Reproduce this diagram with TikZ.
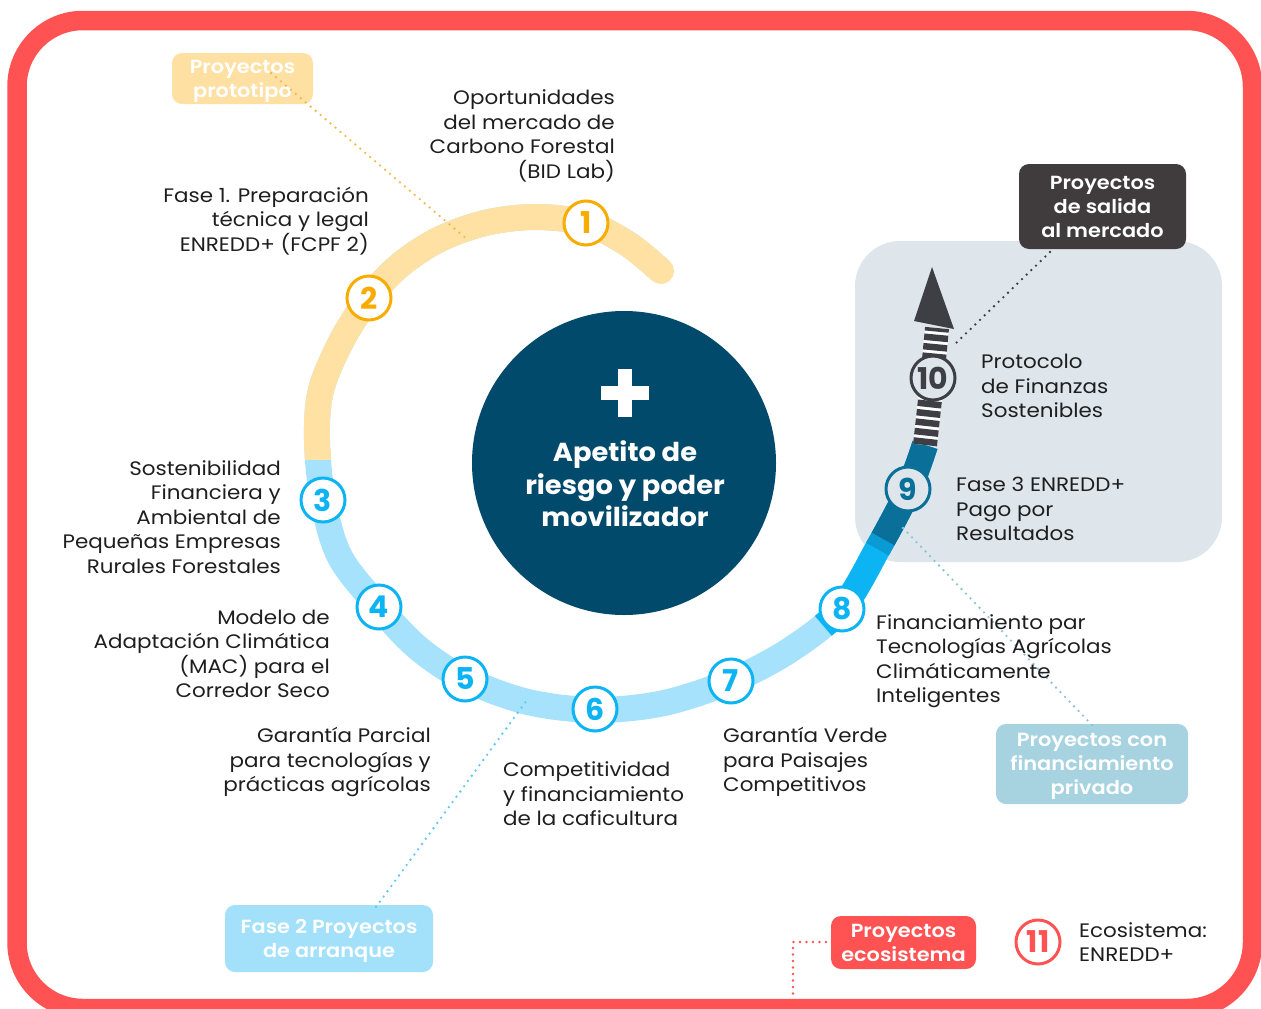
\documentclass[tikz,border=0pt]{standalone}
\usepackage{fontspec}
\setmainfont{Poppins}[FakeStretch=1.1]
\newfontfamily\numfont{Poppins}
\newfontfamily\centfont{Poppins}[FakeStretch=1.05]
\IfFontExistsTF{Poppins SemiBold}{\newfontfamily\tagfont{Poppins SemiBold}[FakeStretch=1.1]}{\newfontfamily\tagfontbase{Poppins}[FakeStretch=1.06]\newcommand\tagfont{\tagfontbase\bfseries}}
\definecolor{redc}{HTML}{FF5353}
\definecolor{orband}{HTML}{FFE1A4}
\definecolor{gold}{HTML}{F9AC00}
\definecolor{lband}{HTML}{A6E2FC}
\definecolor{bblue}{HTML}{0DB4F3}
\definecolor{mblue}{HTML}{0A9BD5}
\definecolor{teal}{HTML}{0B7099}
\definecolor{darkc}{HTML}{3D3F45}
\definecolor{boxc}{HTML}{DEE6EC}
\definecolor{centc}{HTML}{024A6B}
\definecolor{salc}{HTML}{403C3D}
\definecolor{privc}{HTML}{A7D3E1}
\definecolor{fasec}{HTML}{A3E1FB}
\definecolor{protc}{HTML}{FFE0A3}
\definecolor{txt}{HTML}{1E1E1E}
\definecolor{pdot}{HTML}{8EC3D6}
\definecolor{fdot}{HTML}{5BC8F5}
\definecolor{odot}{HTML}{F5B94A}
\def\bandpath{plot[smooth, tension=0.55] coordinates {(661,271) (628,244) (586,223) (535,217) (485,223) (438,240) (399,266) (369,298) (342,340) (321,390) (317,440) (323,500) (340,557) (379,607) (418,648) (465,679) (528,702) (596,710) (664,703) (731,681) (790,650) (842,608) (878,548) (908,491) (925,445)}}
\def\stripepath{plot[smooth] coordinates {(925,445) (931,390) (937,328)}}
\tikzset{
  body/.style={font=\fontsize{19.5}{24.5}\selectfont, text=txt, inner sep=0pt},
  numc/.style={circle, draw=#1, line width=3pt, fill=white, minimum size=44pt, inner sep=0pt, text=#1, font=\numfont\fontsize{30}{30}\selectfont\bfseries},
  tag/.style={rounded corners=10pt, fill=#1, text=white, font=\tagfont\fontsize{19}{24}\selectfont, align=center, inner sep=0pt, text depth=0pt},
  dots/.style={draw=#1, line width=2.6pt, line cap=round, dash pattern=on 0pt off 6.5pt},
  band/.style={line width=26pt, draw=#1},
}
\begin{document}
\begin{tikzpicture}[x=1pt,y=-1pt]
\path[use as bounding box, clip] (0,0) rectangle (1261,1009);
% gray box
\fill[boxc, rounded corners=45pt] (855,241) rectangle (1222,562);
% red frame
\draw[redc, line width=19.5pt, rounded corners=66pt] (17,20.5) rectangle (1252.5,1008.5);
% band
\draw[band=lband] \bandpath;
\begin{scope}
\clip (0,0) rectangle (800,459);
\draw[band=orband] \bandpath;
\end{scope}
\fill[orband] (661,271) circle (13pt);
\begin{scope}
\clip (760,552) -- (880,692) -- (1261,692) -- (1261,0) -- (760,0) -- cycle;
\draw[band=bblue] \bandpath;
\end{scope}
\begin{scope}
\clip (792,501) -- (966,599) -- (1261,599) -- (1261,0) -- (792,0) -- cycle;
\draw[band=mblue] \bandpath;
\end{scope}
\begin{scope}
\clip (798,491) -- (972,589) -- (1261,589) -- (1261,0) -- (798,0) -- cycle;
\draw[band=teal] \bandpath;
\end{scope}
% stripes and arrow
\draw[white, line width=24pt] \stripepath;
\draw[darkc, line width=24pt, dash pattern=on 6.5pt off 3pt] \stripepath;
\fill[darkc] (914,321) -- (954,329) -- (932,267) -- cycle;
% tags
\node[tag=protc, minimum width=141pt, minimum height=51pt] (proto) at (242.5,78.5) {Proyectos\\prototipo};
\node[tag=salc, minimum width=167pt, minimum height=85pt] (sal) at (1102.5,206.5) {Proyectos\\de salida\\al mercado};
\node[tag=privc, minimum width=192pt, minimum height=80pt] (priv) at (1092,764) {Proyectos con\\financiamiento\\privado};
\node[tag=fasec, minimum width=208pt, minimum height=67pt] (fase2) at (329,938.5) {Fase 2 Proyectos\\de arranque};
\node[tag=redc, minimum width=145pt, minimum height=53pt] (ecos) at (903.5,942.5) {Proyectos\\ecosistema};
% dotted connectors
\coordinate (protoS) at (271,73);
\coordinate (protoE) at (468,240);
\draw[dots=odot] (protoS) -- (protoE);
\coordinate (salS) at (1050,252);
\coordinate (salE) at (953,346);
\draw[dots=darkc] (salS) -- (salE);
\coordinate (privS) at (1092,725);
\coordinate (privE) at (903,528);
\draw[dots=pdot] (privS) -- (privE);
\coordinate (faseS) at (376,907);
\coordinate (faseE) at (527,700);
\draw[dots=fdot] (faseS) -- (faseE);
\coordinate (ecoS) at (826,942);
\coordinate (ecoM) at (793,942);
\coordinate (ecoE) at (793,999);
\draw[dots=redc] (ecoS) -- (ecoM) -- (ecoE);
% numbered circles
\node[numc=gold] (n1) at (586,223) {1};
\node[numc=gold] (n2) at (369,298) {2};
\node[numc=bblue] (n3) at (323,500) {3};
\node[numc=bblue] (n4) at (379,607) {4};
\node[numc=bblue] (n5) at (465,679) {5};
\node[numc=bblue] (n6) at (595,709) {6};
\node[numc=bblue] (n7) at (731,681) {7};
\node[numc=bblue] (n8) at (842,609) {8};
\node[numc=teal, fill=boxc] (n9) at (908,489) {9};
\node[numc=darkc, fill=boxc] (n10) at (933,378) {10};
\node[numc=redc] (n11) at (1038,942) {11};
% center
\node[circle, fill=centc, minimum size=304pt, inner sep=0pt] (cent) at (624,463) {};
\fill[white] (601,386) rectangle (649,400);
\fill[white] (618,369) rectangle (632,417);
\node[font=\centfont\fontsize{26}{32.5}\selectfont\bfseries, text=white, align=center, inner sep=0pt] (ctext) at (625,484) {Apetito de\\riesgo y poder\\movilizador};
% texts
\node[body, align=right, anchor=east] (t1) at (615,136) {Oportunidades\\del mercado de\\Carbono Forestal\\(BID Lab)};
\node[body, align=right, anchor=east] (t2) at (369,221) {Fase 1. Preparación\\técnica y legal\\ENREDD+ (FCPF 2)};
\node[body, align=right, anchor=east] (t3) at (281,517) {Sostenibilidad\\Financiera y\\Ambiental de\\Pequeñas Empresas\\Rurales Forestales};
\node[body, align=right, anchor=east] (t4) at (330,654) {Modelo de\\Adaptación Climática\\(MAC) para el\\Corredor Seco};
\node[body, align=right, anchor=east] (t5) at (431,762) {Garantía Parcial\\para tecnologías y\\prácticas agrícolas};
\node[body, align=left, anchor=west] (t6) at (503,794) {Competitividad\\y financiamiento\\de la caficultura};
\node[body, align=left, anchor=west] (t7) at (723,762) {Garantía Verde\\para Paisajes\\Competitivos};
\node[body, align=left, anchor=west] (t8) at (876,661) {Financiamiento par\\Tecnologías Agrícolas\\Climáticamente\\Inteligentes};
\node[body, align=left, anchor=west] (t9) at (956,509) {Fase 3 ENREDD+\\Pago por\\Resultados};
\node[body, align=left, anchor=west] (t10) at (981,386) {Protocolo\\de Finanzas\\Sostenibles};
\node[body, align=left, anchor=west] (t11) at (1079,942) {Ecosistema:\\ENREDD+};
\end{tikzpicture}
\end{document}
